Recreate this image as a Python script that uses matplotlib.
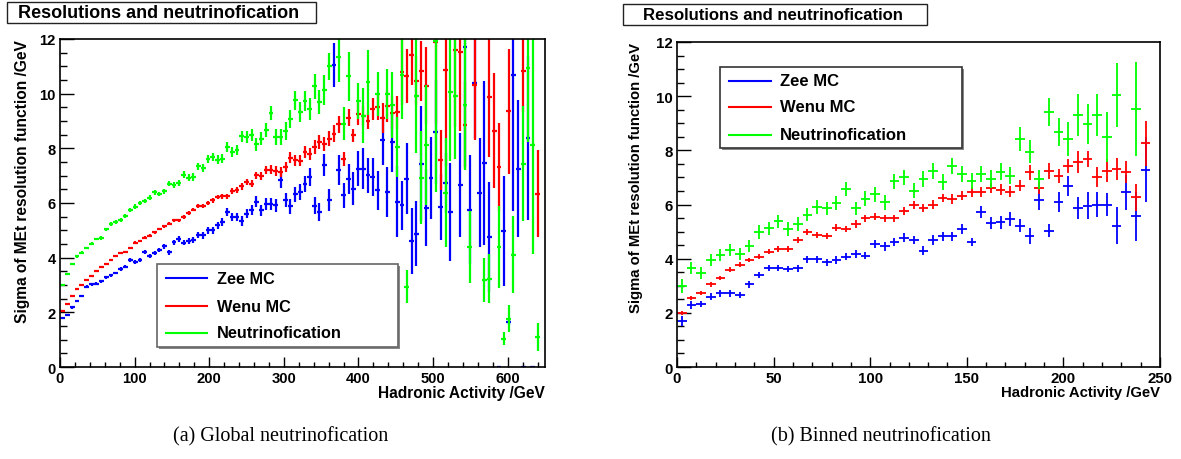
import numpy as np
import matplotlib
matplotlib.use("Agg")
import matplotlib.pyplot as plt
from matplotlib.patches import Rectangle
from matplotlib.lines import Line2D
from matplotlib.ticker import MultipleLocator

plt.rcParams['font.family'] = ['Liberation Sans', 'DejaVu Sans']
plt.rcParams['font.weight'] = 'bold'

nan = np.nan

# ==========================================================
# (a) global neutrinofication : 100 bins, 0 - 650 GeV
# ==========================================================
left_edges = np.linspace(0, 650, 101)

left_zee = [
    1.78, 1.90, 2.18, 2.42, 2.60, 2.94, 3.02, 3.05, 3.14, 3.28,
    3.35, 3.44, 3.59, 3.67, 3.91, 3.84, 3.91, 4.20, 4.07, 4.17,
    4.27, 4.41, 4.20, 4.57, 4.68, 4.55, 4.61, 4.63, 4.82, 4.82,
    5.00, 5.00, 5.18, 5.30, 5.67, 5.49, 5.49, 5.34, 5.61, 5.73,
    6.04, 5.73, 5.98, 5.95, 5.91, 6.85, 6.10, 5.88, 6.32, 6.40,
    6.70, 6.95, 5.90, 5.67, 7.38, 6.12, 11.04, 7.20, 6.28, 6.89,
    6.52, 7.26, 7.26, 7.01, 6.95, 6.46, 8.29, 6.40, 8.23, 6.04,
    5.91, 6.89, 4.60, 4.88, 7.44, 5.83, 6.91, 8.60, 5.85, 6.73,
    5.67, nan, 6.67, 11.70, 5.76, 10.39, 6.38, 7.46, 4.76, nan,
    0.0, 4.98, 1.65, 10.70, 7.26, 0.0, 8.38, 0.0, nan, nan]
left_zee_err = [
    0.04, 0.04, 0.04, 0.04, 0.04, 0.05, 0.05, 0.05, 0.05, 0.05,
    0.05, 0.05, 0.06, 0.06, 0.06, 0.06, 0.07, 0.07, 0.07, 0.08,
    0.08, 0.08, 0.09, 0.09, 0.10, 0.10, 0.10, 0.11, 0.11, 0.12,
    0.12, 0.13, 0.13, 0.14, 0.15, 0.15, 0.16, 0.17, 0.17, 0.18,
    0.20, 0.20, 0.22, 0.22, 0.24, 0.30, 0.25, 0.27, 0.28, 0.30,
    0.30, 0.32, 0.32, 0.32, 0.40, 0.40, 0.80, 0.55, 0.45, 0.55,
    0.60, 0.65, 0.75, 0.65, 0.70, 0.70, 0.90, 0.90, 1.10, 1.30,
    0.90, 1.30, 1.20, 1.20, 2.10, 1.40, 1.50, 1.90, 1.20, 1.10,
    1.80, nan, 1.90, 4.40, 2.00, 2.00, 2.00, 3.00, 2.00, nan,
    0.0, 2.00, 0.10, 5.00, 2.50, 0.0, 3.00, 0.0, nan, nan]

left_wenu = [
    2.06, 2.30, 2.58, 2.87, 2.99, 3.18, 3.33, 3.52, 3.66, 3.78,
    3.91, 4.06, 4.18, 4.22, 4.36, 4.55, 4.61, 4.73, 4.81, 4.93,
    5.05, 5.15, 5.25, 5.36, 5.37, 5.49, 5.63, 5.76, 5.88, 5.88,
    6.00, 6.10, 6.22, 6.24, 6.24, 6.44, 6.49, 6.61, 6.77, 6.71,
    7.01, 6.98, 7.20, 7.22, 7.17, 7.13, 7.32, 7.66, 7.56, 7.54,
    7.87, 7.80, 8.05, 8.23, 8.17, 8.35, 8.54, 8.88, 7.60, 9.12,
    8.47, 9.25, 9.20, 9.01, 9.44, 9.50, 9.10, 9.55, 9.30, 9.32,
    10.80, 10.65, 11.41, 10.48, 10.84, 10.29, nan, 11.90, 7.56, 10.86,
    nan, 11.58, 11.53, 8.85, nan, 10.32, nan, nan, 9.88, 8.64,
    7.31, nan, 9.35, nan, nan, 10.84, nan, nan, 6.34, nan]
left_wenu_err = [
    0.03, 0.03, 0.03, 0.03, 0.03, 0.03, 0.03, 0.03, 0.03, 0.03,
    0.04, 0.04, 0.04, 0.04, 0.04, 0.05, 0.05, 0.05, 0.05, 0.05,
    0.05, 0.05, 0.06, 0.06, 0.06, 0.07, 0.07, 0.07, 0.08, 0.08,
    0.08, 0.09, 0.09, 0.10, 0.10, 0.11, 0.11, 0.12, 0.12, 0.13,
    0.14, 0.14, 0.15, 0.16, 0.17, 0.17, 0.18, 0.20, 0.20, 0.20,
    0.22, 0.22, 0.24, 0.25, 0.25, 0.27, 0.30, 0.32, 0.25, 0.32,
    0.25, 0.40, 0.35, 0.30, 0.40, 0.45, 0.55, 0.60, 0.60, 0.60,
    1.20, 1.00, 1.10, 0.90, 1.10, 1.40, nan, 3.00, 1.10, 3.50,
    nan, 2.80, 2.90, 1.60, nan, 2.00, nan, nan, 2.20, 2.10,
    1.60, nan, 2.30, nan, nan, 1.50, nan, nan, 1.60, nan]

left_nu = [
    2.99, 3.41, 3.78, 4.05, 4.18, 4.35, 4.51, 4.68, 4.72, 5.04,
    5.23, 5.31, 5.37, 5.51, 5.73, 5.87, 6.01, 6.07, 6.19, 6.40,
    6.33, 6.43, 6.71, 6.66, 6.72, 7.04, 6.93, 6.95, 7.34, 7.29,
    7.62, 7.68, 7.59, 7.62, 8.05, 7.87, 7.95, 8.44, 8.41, 8.50,
    8.15, 8.35, 8.66, 9.29, 8.41, 8.41, 8.63, 9.09, 9.76, 9.33,
    9.73, 9.45, 10.27, 9.70, 10.12, 11.00, nan, 11.33, 8.90, 10.63,
    nan, 9.74, 9.20, 10.41, nan, 9.99, nan, 9.99, 9.59, 8.06,
    10.68, 2.94, nan, 9.93, 6.92, 8.11, nan, 11.92, nan, 6.38,
    10.05, 9.92, nan, 9.60, 4.39, nan, nan, 3.17, 3.23, nan,
    4.39, 1.04, 1.77, 4.11, nan, 7.44, 10.94, 8.13, 1.10, nan]
left_nu_err = [
    0.04, 0.04, 0.04, 0.05, 0.05, 0.05, 0.05, 0.05, 0.06, 0.06,
    0.06, 0.06, 0.07, 0.07, 0.07, 0.08, 0.08, 0.08, 0.09, 0.09,
    0.09, 0.10, 0.10, 0.11, 0.11, 0.12, 0.12, 0.13, 0.13, 0.14,
    0.15, 0.15, 0.16, 0.17, 0.18, 0.18, 0.19, 0.20, 0.21, 0.22,
    0.23, 0.24, 0.25, 0.27, 0.28, 0.30, 0.32, 0.33, 0.35, 0.35,
    0.37, 0.40, 0.45, 0.45, 0.55, 0.50, nan, 0.90, 0.60, 0.90,
    nan, 0.65, 1.00, 1.20, nan, 0.80, nan, 0.90, 1.20, 1.10,
    1.60, 0.60, nan, 2.10, 1.70, 2.20, nan, 5.50, nan, 2.00,
    2.50, 2.30, nan, 2.40, 1.30, nan, nan, 0.80, 0.90, nan,
    1.50, 0.25, 0.50, 1.40, nan, 2.10, 2.70, 4.00, 0.50, nan]

# ==========================================================
# (b) binned neutrinofication : 49 bins, 0 - 245 GeV
# ==========================================================
right_edges = np.linspace(0, 245, 50)

right_zee = [
    1.71, 2.29, 2.32, 2.60, 2.72, 2.72, 2.66, 3.05, 3.40, 3.65,
    3.65, 3.62, 3.65, 3.97, 3.97, 3.87, 3.95, 4.08, 4.17, 4.11,
    4.54, 4.45, 4.61, 4.77, 4.69, 4.30, 4.69, 4.82, 4.82, 5.10,
    4.61, 5.71, 5.32, 5.34, 5.47, 5.22, 4.85, 6.15, 5.04, 6.11,
    6.70, 5.86, 5.96, 5.99, 5.99, 5.22, 6.45, 5.57, 7.29]
right_zee_err = [
    0.18, 0.14, 0.12, 0.12, 0.12, 0.12, 0.12, 0.12, 0.12, 0.12,
    0.12, 0.12, 0.13, 0.13, 0.13, 0.13, 0.14, 0.14, 0.14, 0.14,
    0.15, 0.15, 0.15, 0.16, 0.16, 0.16, 0.17, 0.17, 0.18, 0.18,
    0.14, 0.22, 0.22, 0.24, 0.25, 0.25, 0.30, 0.37, 0.25, 0.37,
    0.37, 0.40, 0.50, 0.46, 0.43, 0.68, 0.65, 0.90, 1.20]

right_wenu = [
    2.00, 2.54, 2.73, 3.05, 3.29, 3.60, 3.77, 3.95, 4.08, 4.26,
    4.36, 4.36, 4.70, 4.98, 4.88, 4.83, 5.15, 5.10, 5.28, 5.49,
    5.55, 5.49, 5.49, 5.75, 5.99, 5.86, 5.99, 6.24, 6.20, 6.33,
    6.45, 6.47, 6.61, 6.55, 6.47, 6.70, 7.19, 6.61, 7.25, 7.06,
    7.43, 7.58, 7.68, 7.00, 7.25, 7.31, 7.21, 6.26, 8.27]
right_wenu_err = [
    0.07, 0.08, 0.08, 0.08, 0.08, 0.09, 0.09, 0.09, 0.10, 0.10,
    0.10, 0.10, 0.11, 0.11, 0.11, 0.12, 0.12, 0.12, 0.13, 0.13,
    0.13, 0.14, 0.14, 0.14, 0.15, 0.15, 0.16, 0.16, 0.17, 0.17,
    0.18, 0.18, 0.19, 0.19, 0.20, 0.20, 0.28, 0.22, 0.30, 0.25,
    0.25, 0.40, 0.30, 0.37, 0.43, 0.40, 0.40, 0.50, 0.83]

right_nu = [
    3.00, 3.65, 3.47, 3.95, 4.14, 4.32, 4.17, 4.48, 4.98, 5.12,
    5.38, 5.10, 5.28, 5.63, 5.90, 5.86, 6.05, 6.58, 5.86, 6.21,
    6.37, 6.08, 6.85, 7.00, 6.51, 6.94, 7.25, 6.84, 7.43, 7.13,
    6.88, 7.13, 6.94, 7.21, 7.06, 8.42, 7.95, 6.94, 9.43, 8.69,
    8.42, 9.30, 8.97, 9.30, 8.48, 10.04, nan, 9.53, nan]
right_nu_err = [
    0.25, 0.22, 0.22, 0.22, 0.22, 0.22, 0.22, 0.22, 0.25, 0.25,
    0.25, 0.25, 0.25, 0.25, 0.25, 0.25, 0.25, 0.25, 0.25, 0.28,
    0.28, 0.28, 0.28, 0.28, 0.28, 0.30, 0.30, 0.30, 0.30, 0.30,
    0.30, 0.30, 0.32, 0.32, 0.32, 0.43, 0.43, 0.35, 0.52, 0.52,
    0.62, 0.77, 0.74, 0.77, 0.92, 1.19, nan, 1.75, nan]

labels = ['Zee MC', 'Wenu MC', 'Neutrinofication']
colors = ['#0000ff', '#ff0000', '#00ff00']

W, H = 1181, 460
fig = plt.figure(figsize=(W / 100, H / 100), dpi=100)
fig.patch.set_facecolor('white')


def fx(x):
    return x / W


def fy(y):
    return 1 - y / H


def draw_hists(ax, edges, series, lw):
    centres = 0.5 * (edges[:-1] + edges[1:])
    half = 0.5 * np.diff(edges)
    for (vals, errs), c in zip(series, colors):
        ax.errorbar(centres, vals, xerr=half, yerr=errs, fmt='none',
                    ecolor=c, elinewidth=lw, capsize=0)


def style_axes(ax, xmax, xmaj, xmin, lab_size, title_size, ylab_x):
    ax.set_xlim(0, xmax)
    ax.set_ylim(0, 12)
    ax.xaxis.set_major_locator(MultipleLocator(xmaj))
    ax.xaxis.set_minor_locator(MultipleLocator(xmin))
    ax.yaxis.set_major_locator(MultipleLocator(2))
    ax.yaxis.set_minor_locator(MultipleLocator(0.5))
    ax.tick_params(which='both', direction='in', top=False, right=False,
                   labelsize=lab_size, width=1.0)
    ax.tick_params(axis='y', which='major', length=10, pad=3)
    ax.tick_params(axis='y', which='minor', length=5)
    ax.tick_params(axis='x', which='major', length=7, pad=3)
    ax.tick_params(axis='x', which='minor', length=3.5)
    for lab in ax.get_xticklabels() + ax.get_yticklabels():
        lab.set_fontweight('bold')
    for s in ax.spines.values():
        s.set_linewidth(1.2)
    ax.text(1.0, -0.077, 'Hadronic Activity /GeV', transform=ax.transAxes,
            ha='right', va='center', fontsize=title_size, fontweight='bold')
    ax.text(ylab_x, 1.0, 'Sigma of MEt resolution function /GeV',
            transform=ax.transAxes, rotation=90, ha='center', va='top',
            fontsize=title_size, fontweight='bold')


def title_box(x0, y0, x1, y1, tx, size):
    fig.patches.append(Rectangle((fx(x0), fy(y1)), (x1 - x0) / W, (y1 - y0) / H,
                                 transform=fig.transFigure, facecolor='white',
                                 edgecolor='#222222', lw=1.0))
    fig.text(fx(tx), fy(0.5 * (y0 + y1)), 'Resolutions and neutrinofication',
             ha='left', va='center', fontsize=size, fontweight='bold')


def legend_box(x0, y0, x1, y1, rows, lx0, lx1, tx, size, edge):
    fig.patches.append(Rectangle((fx(x0) + 2 / W, fy(y1) - 2 / H), (x1 - x0) / W,
                                 (y1 - y0) / H, transform=fig.transFigure,
                                 facecolor='#888888', edgecolor='none'))
    fig.patches.append(Rectangle((fx(x0), fy(y1)), (x1 - x0) / W, (y1 - y0) / H,
                                 transform=fig.transFigure, facecolor='white',
                                 edgecolor=edge, lw=1.2))
    for yy, lab, c in zip(rows, labels, colors):
        fig.lines.append(Line2D([fx(lx0), fx(lx1)], [fy(yy), fy(yy)],
                                transform=fig.transFigure, color=c, lw=1.5))
        fig.text(fx(tx), fy(yy), lab, ha='left', va='center',
                 fontsize=size, fontweight='bold')


# ---------------- left pad ----------------
axL = fig.add_axes([fx(60), fy(368), 485 / W, 328 / H])
draw_hists(axL, left_edges,
           [(left_zee, left_zee_err), (left_wenu, left_wenu_err), (left_nu, left_nu_err)],
           lw=1.6)
style_axes(axL, 650, 100, 20, 10.6, 11.2, -0.078)
title_box(7, 3, 316, 24, 18, 13)
legend_box(157, 265, 398, 348, [279, 307, 334], 166, 207, 217, 11.7, '#666666')

# ---------------- right pad ----------------
axR = fig.add_axes([fx(677), fy(368), 483 / W, 325 / H])
draw_hists(axR, right_edges,
           [(right_zee, right_zee_err), (right_wenu, right_wenu_err), (right_nu, right_nu_err)],
           lw=1.3)
style_axes(axR, 250, 50, 10, 10.8, 10.7, -0.085)
title_box(623, 5, 927, 26, 643, 12.1)
legend_box(720, 68, 962, 149, [82, 108, 136], 729, 771, 780, 12, '#333333')

# ---------------- captions ----------------
fig.text(fx(281), fy(437), '(a) Global neutrinofication', ha='center', va='center',
         fontsize=14.5, family=['Liberation Serif', 'DejaVu Serif'], fontweight='normal')
fig.text(fx(881), fy(437), '(b) Binned neutrinofication', ha='center', va='center',
         fontsize=14.5, family=['Liberation Serif', 'DejaVu Serif'], fontweight='normal')

fig.savefig('out.png', dpi=100)
